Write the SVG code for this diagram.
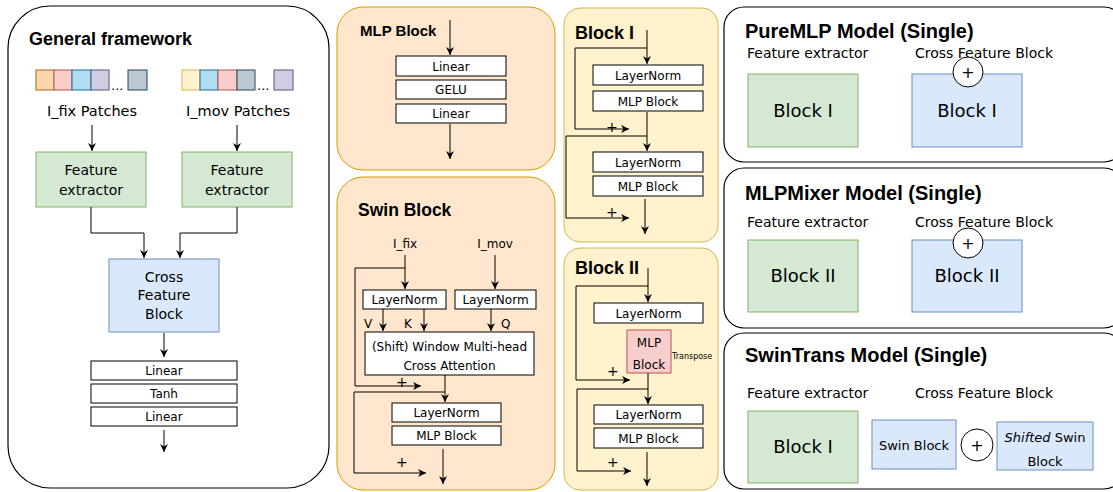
<svg xmlns="http://www.w3.org/2000/svg" width="1113" height="492" viewBox="0 0 1113 492">
<style>
text{font-family:"DejaVu Sans","Liberation Sans",sans-serif;fill:#000}
.t{font-family:"Liberation Sans",Arial,sans-serif;font-weight:bold}
.c{text-anchor:middle}
.panel{fill:#fff;stroke:#000;stroke-width:1.2}
.org{fill:#ffe6cc;stroke:#d79b00;stroke-width:1}
.yel{fill:#fff2cc;stroke:#d6b656;stroke-width:1}
.grn{fill:#d5e8d4;stroke:#82b366;stroke-width:1}
.blu{fill:#dae8fc;stroke:#6c8ebf;stroke-width:1}
.red{fill:#f8cecc;stroke:#b85450;stroke-width:1}
.wb{fill:#fff;stroke:#000;stroke-width:1}
.ln{fill:none;stroke:#000;stroke-width:1}
.ar{fill:none;stroke:#000;stroke-width:1;marker-end:url(#ah)}
</style>
<defs>
<marker id="ah" viewBox="0 0 10 10" refX="10" refY="5" markerWidth="8" markerHeight="8" markerUnits="userSpaceOnUse" orient="auto">
<path d="M0,0 L10,5 L0,10 L3,5 Z" fill="#000"/>
</marker>
</defs>

<g id="general-framework">
<rect class="panel" x="8" y="6" width="321" height="482" rx="42"/>
<text class="t" x="29" y="45" font-size="18">General framework</text>
<g id="fix-patches">
<rect x="36" y="70" width="18" height="20" fill="#fad7ac" stroke="#b46504"/>
<rect x="54" y="70" width="18" height="20" fill="#f8cecc" stroke="#b85450"/>
<rect x="72" y="70" width="19" height="20" fill="#b1ddf0" stroke="#10739e"/>
<rect x="91" y="70" width="18" height="20" fill="#d0cee2" stroke="#56517e"/>
<text x="111" y="90" font-size="13">...</text>
<rect x="128" y="70" width="19" height="20" fill="#bac8d3" stroke="#23445d"/>
<text class="c" x="92" y="116" font-size="14.5">I_fix Patches</text>
</g>
<g id="mov-patches">
<rect x="182" y="70" width="18" height="20" fill="#fff2cc" stroke="#d6b656"/>
<rect x="200" y="70" width="18" height="20" fill="#b1ddf0" stroke="#10739e"/>
<rect x="218" y="70" width="19" height="20" fill="#f8cecc" stroke="#b85450"/>
<rect x="237" y="70" width="18" height="20" fill="#bac8d3" stroke="#23445d"/>
<text x="257" y="90" font-size="13">...</text>
<rect x="274" y="70" width="19" height="20" fill="#d0cee2" stroke="#56517e"/>
<text class="c" x="238" y="116" font-size="14.5">I_mov Patches</text>
</g>
<g id="fe-left">
<rect class="grn" x="36" y="152" width="110" height="55"/>
<text class="c" x="91" y="175" font-size="14">Feature</text>
<text class="c" x="91" y="195" font-size="14">extractor</text>
</g>
<g id="fe-right">
<rect class="grn" x="182" y="152" width="110" height="55"/>
<text class="c" x="237" y="175" font-size="14">Feature</text>
<text class="c" x="237" y="195" font-size="14">extractor</text>
</g>
<g id="cross-feature">
<rect class="blu" x="109" y="259" width="110" height="73"/>
<text class="c" x="164" y="282" font-size="14">Cross</text>
<text class="c" x="164" y="300" font-size="14">Feature</text>
<text class="c" x="164" y="319" font-size="14">Block</text>
</g>
<g id="head">
<rect class="wb" x="91" y="361" width="146" height="19"/>
<text class="c" x="164" y="375" font-size="12">Linear</text>
<rect class="wb" x="91" y="384" width="146" height="19"/>
<text class="c" x="164" y="398" font-size="12">Tanh</text>
<rect class="wb" x="91" y="407" width="146" height="19"/>
<text class="c" x="164" y="421" font-size="12">Linear</text>
</g>
</g>

<g id="mlp-block">
<rect class="org" x="337" y="7" width="218" height="163" rx="26"/>
<text class="t" x="360" y="36" font-size="15">MLP Block</text>
<rect class="wb" x="396" y="56" width="110" height="20"/>
<text class="c" x="451" y="71" font-size="12">Linear</text>
<rect class="wb" x="396" y="80" width="110" height="19"/>
<text class="c" x="451" y="94" font-size="12">GELU</text>
<rect class="wb" x="396" y="104" width="110" height="19"/>
<text class="c" x="451" y="118" font-size="12">Linear</text>
</g>

<g id="swin-block">
<rect class="org" x="337" y="177" width="218" height="313" rx="26"/>
<text class="t" x="358" y="216" font-size="17.5">Swin Block</text>
<text class="c" x="405" y="248" font-size="12">I_fix</text>
<text class="c" x="495" y="248" font-size="12">I_mov</text>
<rect class="wb" x="363" y="290" width="83" height="19"/>
<text class="c" x="404.5" y="304" font-size="12">LayerNorm</text>
<rect class="wb" x="455" y="290" width="81" height="19"/>
<text class="c" x="495.5" y="304" font-size="12">LayerNorm</text>
<text x="364" y="328" font-size="12">V</text>
<text x="404" y="328" font-size="12">K</text>
<text x="501" y="328" font-size="12">Q</text>
<rect class="wb" x="365" y="332" width="169" height="43"/>
<text class="c" x="449.5" y="351" font-size="12">(Shift) Window Multi-head</text>
<text class="c" x="449.5" y="370" font-size="12">Cross Attention</text>
<text x="396" y="387" font-size="14">+</text>
<rect class="wb" x="392" y="403" width="109" height="19"/>
<text class="c" x="446.5" y="417" font-size="12">LayerNorm</text>
<rect class="wb" x="392" y="426" width="109" height="19"/>
<text class="c" x="446.5" y="440" font-size="12">MLP Block</text>
<text x="396" y="467" font-size="14">+</text>
</g>

<g id="block-i">
<rect class="yel" x="564" y="8" width="154" height="234" rx="16"/>
<text class="t" x="575" y="39" font-size="18">Block I</text>
<rect class="wb" x="593" y="65" width="110" height="20"/>
<text class="c" x="648" y="80" font-size="12">LayerNorm</text>
<rect class="wb" x="593" y="91" width="110" height="20"/>
<text class="c" x="648" y="106" font-size="12">MLP Block</text>
<text x="606" y="132" font-size="14">+</text>
<rect class="wb" x="593" y="152" width="110" height="20"/>
<text class="c" x="648" y="167" font-size="12">LayerNorm</text>
<rect class="wb" x="593" y="176" width="110" height="20"/>
<text class="c" x="648" y="191" font-size="12">MLP Block</text>
<text x="606" y="217" font-size="14">+</text>
</g>

<g id="block-ii">
<rect class="yel" x="564" y="248" width="154" height="242" rx="16"/>
<text class="t" x="575" y="274" font-size="18">Block II</text>
<rect class="wb" x="594" y="303" width="109" height="20"/>
<text class="c" x="648.5" y="318" font-size="12">LayerNorm</text>
<rect class="red" x="627" y="330" width="44" height="43"/>
<text class="c" x="649" y="347" font-size="12">MLP</text>
<text class="c" x="649" y="369" font-size="12">Block</text>
<text x="672" y="359" font-size="8">Transpose</text>
<text x="607" y="376" font-size="14">+</text>
<rect class="wb" x="594" y="405" width="109" height="19"/>
<text class="c" x="648.5" y="419" font-size="12">LayerNorm</text>
<rect class="wb" x="594" y="428" width="109" height="20"/>
<text class="c" x="648.5" y="443" font-size="12">MLP Block</text>
<text x="607" y="467" font-size="14">+</text>
</g>

<g id="puremlp-model">
<rect class="panel" x="724" y="7" width="400" height="155" rx="20"/>
<text class="t" x="745" y="38" font-size="20">PureMLP Model (Single)</text>
<text x="747" y="58" font-size="14">Feature extractor</text>
<text x="915" y="58" font-size="14">Cross Feature Block</text>
<rect class="grn" x="748" y="74" width="110" height="73"/>
<text class="c" x="803" y="117" font-size="18">Block I</text>
<rect class="blu" x="912" y="74" width="110" height="73"/>
<text class="c" x="967" y="117" font-size="18">Block I</text>
<circle cx="968" cy="72" r="15" fill="#fff" stroke="#000"/>
<text class="c" x="968" y="78" font-size="16">+</text>
</g>

<g id="mlpmixer-model">
<rect class="panel" x="724" y="168" width="400" height="160" rx="20"/>
<text class="t" x="745" y="200" font-size="20">MLPMixer Model (Single)</text>
<text x="747" y="227" font-size="14">Feature extractor</text>
<text x="915" y="227" font-size="14">Cross Feature Block</text>
<rect class="grn" x="748" y="240" width="110" height="72"/>
<text class="c" x="803" y="282" font-size="18">Block II</text>
<rect class="blu" x="912" y="240" width="110" height="72"/>
<text class="c" x="967" y="282" font-size="18">Block II</text>
<circle cx="968" cy="243" r="15" fill="#fff" stroke="#000"/>
<text class="c" x="968" y="249" font-size="16">+</text>
</g>

<g id="swintrans-model">
<rect class="panel" x="724" y="333" width="400" height="156" rx="20"/>
<text class="t" x="745" y="362" font-size="20">SwinTrans Model (Single)</text>
<text x="747" y="398" font-size="14">Feature extractor</text>
<text x="915" y="398" font-size="14">Cross Feature Block</text>
<rect class="grn" x="748" y="411" width="110" height="72"/>
<text class="c" x="803" y="453" font-size="18">Block I</text>
<rect class="blu" x="872" y="420" width="84" height="49"/>
<text class="c" x="914" y="450" font-size="13">Swin Block</text>
<circle cx="977" cy="445" r="16" fill="#fff" stroke="#000"/>
<text class="c" x="977" y="451" font-size="16">+</text>
<rect class="blu" x="997" y="422" width="96" height="48"/>
<text class="c" x="1045" y="442" font-size="13"><tspan font-style="italic">Shifted</tspan> Swin</text>
<text class="c" x="1045" y="466" font-size="13">Block</text>
</g>

<g id="connectors">
<path class="ar" d="M92,125 V151"/>
<path class="ar" d="M237,125 V151"/>
<path class="ar" d="M91,207 V233 H144 V258"/>
<path class="ar" d="M237,207 V233 H180 V258"/>
<path class="ar" d="M164,333 V357"/>
<path class="ar" d="M164,430 V452"/>
<path class="ar" d="M450,20 V55"/>
<path class="ar" d="M450,124 V159"/>
<path class="ar" d="M405,255 V289"/>
<path class="ln" d="M405,268 H355 V386"/>
<path class="ar" d="M355,386 H421"/>
<path class="ar" d="M495,255 V289"/>
<path class="ar" d="M383,309 V331"/>
<path class="ar" d="M424,309 V331"/>
<path class="ar" d="M491,309 V331"/>
<path class="ar" d="M445,375 V402"/>
<path class="ln" d="M445,392 H354 V473"/>
<path class="ar" d="M354,473 H426"/>
<path class="ar" d="M443,449 V484"/>
<path class="ar" d="M647,30 V64"/>
<path class="ln" d="M647,48 H575 V129"/>
<path class="ar" d="M575,129 H629"/>
<path class="ar" d="M647,112 V151"/>
<path class="ln" d="M647,136 H566 V218"/>
<path class="ar" d="M566,218 H629"/>
<path class="ar" d="M645,199 V234"/>
<path class="ar" d="M648,268 V302"/>
<path class="ln" d="M648,286 H576 V380"/>
<path class="ar" d="M576,380 H630"/>
<path class="ar" d="M648,373 V404"/>
<path class="ln" d="M648,389 H577 V471"/>
<path class="ar" d="M577,471 H631"/>
<path class="ar" d="M647,452 V486"/>
</g>
</svg>
